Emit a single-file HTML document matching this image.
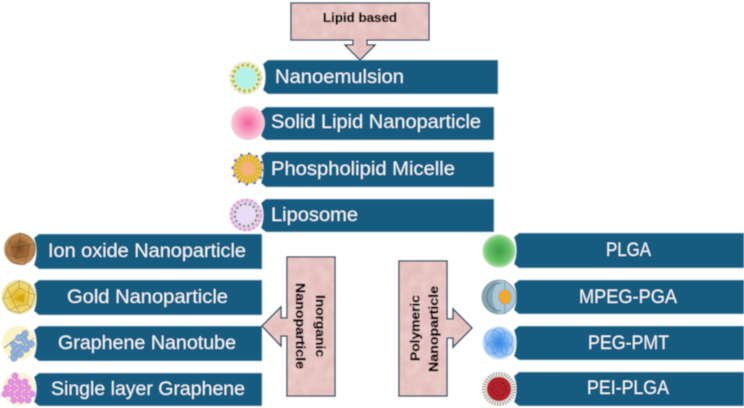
<!DOCTYPE html>
<html><head><meta charset="utf-8"><style>
html,body{margin:0;padding:0;background:#fff;width:744px;height:408px;overflow:hidden}
svg{display:block}
.t{font-family:"Liberation Sans",sans-serif;font-size:19px;fill:#f2f7fa}
.b{font-family:"Liberation Sans",sans-serif;font-size:13px;font-weight:bold;fill:#000;stroke:#000;stroke-width:.35}
</style></head><body>
<svg width="744" height="408" viewBox="0 0 744 408" xmlns="http://www.w3.org/2000/svg">
<defs>
<filter id="tex" x="0" y="0" width="100%" height="100%">
<feTurbulence type="fractalNoise" baseFrequency="0.09" numOctaves="3" seed="4"/>
<feColorMatrix values="0 0 0 0 0.93  0 0 0 0 0.78  0 0 0 0 0.76  0.8 0 0 0 -0.25"/>
<feComposite in2="SourceGraphic" operator="in" result="n"/>
<feMerge><feMergeNode in="SourceGraphic"/><feMergeNode in="n"/></feMerge>
</filter>
<filter id="soft" x="-5%" y="-5%" width="110%" height="110%"><feGaussianBlur stdDeviation="0.4"/></filter>
<radialGradient id="gp"><stop offset="0" stop-color="#f2629f"/><stop offset=".6" stop-color="#f9a0c2"/><stop offset="1" stop-color="#f9cbd9"/></radialGradient>
<radialGradient id="gg"><stop offset="0" stop-color="#3f9c47"/><stop offset=".7" stop-color="#68c268"/><stop offset="1" stop-color="#a8dea2"/></radialGradient>
<radialGradient id="gb"><stop offset="0" stop-color="#2f86ea"/><stop offset=".7" stop-color="#8cbdf2"/><stop offset="1" stop-color="#cfe3f8"/></radialGradient>
<radialGradient id="gi"><stop offset="0" stop-color="#7a4a26"/><stop offset=".7" stop-color="#b27a45"/><stop offset="1" stop-color="#c99862"/></radialGradient>
<radialGradient id="gy"><stop offset="0" stop-color="#e2b51e"/><stop offset=".6" stop-color="#eed160"/><stop offset="1" stop-color="#f3e3a0"/></radialGradient>
</defs>
<g filter="url(#soft)">

<!-- bars -->
<g fill="#125c80" stroke="#a9cfe0" stroke-width=".5">
<path d="M268 60H498V94H268L263 90Q268 77 263 64Z"/>
<path d="M266 107H494V140H266L261 136Q266 123 261 111Z"/>
<path d="M266 152H494V187H266L261 183Q266 169 261 156Z"/>
<path d="M266 199H494V232H266L261 228Q266 215 261 203Z"/>
<path d="M39 234H262V269H39L34 265Q39 251 34 238Z"/>
<path d="M39 280H262V315H39L34 311Q39 297 34 284Z"/>
<path d="M39 326H262V361H39L34 357Q39 343 34 330Z"/>
<path d="M39 373H262V406H39L34 402Q39 389 34 377Z"/>
<path d="M519 233H744V268H519L514 264Q519 250 514 237Z"/>
<path d="M519 280H744V314H519L514 310Q519 297 514 284Z"/>
<path d="M519 326H744V360H519L514 356Q519 343 514 330Z"/>
<path d="M519 372H744V406H519L514 402Q519 389 514 376Z"/>
</g>

<!-- bar labels -->
<text class="t" x="275" y="83" textLength="129" lengthAdjust="spacingAndGlyphs">Nanoemulsion</text>
<text class="t" x="271" y="128" textLength="210" lengthAdjust="spacingAndGlyphs">Solid Lipid Nanoparticle</text>
<text class="t" x="271" y="175" textLength="184" lengthAdjust="spacingAndGlyphs">Phospholipid Micelle</text>
<text class="t" x="271" y="221" textLength="87" lengthAdjust="spacingAndGlyphs">Liposome</text>
<text class="t" x="48" y="257" textLength="198" lengthAdjust="spacingAndGlyphs">Ion oxide Nanoparticle</text>
<text class="t" x="67" y="303" textLength="161" lengthAdjust="spacingAndGlyphs">Gold Nanoparticle</text>
<text class="t" x="58" y="349" textLength="178" lengthAdjust="spacingAndGlyphs">Graphene Nanotube</text>
<text class="t" x="51" y="395" textLength="194" lengthAdjust="spacingAndGlyphs">Single layer Graphene</text>
<text class="t" x="606" y="256" textLength="45" lengthAdjust="spacingAndGlyphs">PLGA</text>
<text class="t" x="579" y="303" textLength="98" lengthAdjust="spacingAndGlyphs">MPEG-PGA</text>
<text class="t" x="588" y="349" textLength="81" lengthAdjust="spacingAndGlyphs">PEG-PMT</text>
<text class="t" x="587" y="394" textLength="82" lengthAdjust="spacingAndGlyphs">PEI-PLGA</text>

<!-- callouts -->
<g fill="#e4bfbd" filter="url(#tex)">
<path d="M291 3H429V40H367V45H375L360 60L345 45H353V40H291Z"/>
<path d="M287 257H335V396H287V336H281V346L262 326L281 307V318H287Z"/>
<path d="M399 261H447V319H453V309L472 328L453 347V338H447V396H399Z"/>
</g>
<g fill="none" stroke="#2c4a60" stroke-width="1.3">
<path d="M291 3H429V40H367V45H375L360 60L345 45H353V40H291Z"/>
<path d="M287 257H335V396H287V336H281V346L262 326L281 307V318H287Z"/>
<path d="M399 261H447V319H453V309L472 328L453 347V338H447V396H399Z"/>
</g>
<text class="b" x="323" y="22" textLength="74" lengthAdjust="spacingAndGlyphs">Lipid based</text>
<text class="b" transform="translate(316,295) rotate(90)" textLength="62" lengthAdjust="spacingAndGlyphs">Inorganic</text>
<text class="b" transform="translate(296,283) rotate(90)" textLength="86" lengthAdjust="spacingAndGlyphs">Nanoparticle</text>
<text class="b" transform="translate(419.5,361) rotate(-90)" textLength="66" lengthAdjust="spacingAndGlyphs">Polymeric</text>
<text class="b" transform="translate(438,372) rotate(-90)" textLength="86" lengthAdjust="spacingAndGlyphs">Nanoparticle</text>

<!-- Nanoemulsion icon -->
<circle cx="246" cy="78" r="16.5" fill="#f3edc9"/>
<circle cx="246" cy="78" r="13" fill="none" stroke="#a6c04e" stroke-width="3" stroke-dasharray="3 2.1"/>
<circle cx="246" cy="78" r="15.7" fill="none" stroke="#d9d39a" stroke-width="1.6" stroke-dasharray="1.6 3.5"/>
<circle cx="246" cy="78" r="11" fill="#b4f2e8"/>

<!-- Solid lipid icon -->
<circle cx="248" cy="123" r="16.5" fill="url(#gp)" stroke="#e6c8c8" stroke-width=".8"/>

<!-- Phospholipid icon -->
<circle cx="248" cy="169" r="15" fill="#ecc34e"/>
<circle cx="248" cy="169" r="10.5" fill="none" stroke="#c49c2c" stroke-width="8" stroke-dasharray=".8 2.4"/>
<circle cx="248" cy="169" r="15.3" fill="none" stroke="#4a70c8" stroke-width="2.4" stroke-dasharray="2.4 5.6"/>
<circle cx="248" cy="169" r="7" fill="#f6b27e"/>

<!-- Liposome icon -->
<circle cx="246" cy="215" r="16.5" fill="#eed5ec"/>
<circle cx="246" cy="215" r="14.8" fill="none" stroke="#d9a6d8" stroke-width="3" stroke-dasharray="3 1.6"/>
<circle cx="246" cy="215" r="11.2" fill="none" stroke="#5a9474" stroke-width="2.2" stroke-dasharray="2.2 2.4"/>
<circle cx="246" cy="215" r="9.5" fill="#e9dcf7"/>

<!-- Ion oxide icon -->
<circle cx="20" cy="249" r="16" fill="url(#gi)"/>
<g fill="none" stroke="#5c3d26" stroke-width=".5">
<path d="M20 233L10 240L6 252L12 262L24 265L33 256L35 244L28 236Z"/>
<path d="M20 240L12 248L16 258L27 256L29 245ZM20 233V240M10 240L12 248M6 252L16 258M24 265L27 256M35 244L29 245M12 248L29 245M20 240L16 258"/>
</g>

<!-- Gold icon -->
<circle cx="19" cy="297" r="17" fill="url(#gy)" stroke="#e9e2c0" stroke-width=".8"/>
<g fill="none" stroke="#a58a22" stroke-width=".6">
<path d="M19 281L8 288L3 299L9 310L20 313L31 307L35 295L29 285Z"/>
<path d="M19 288L11 297L16 307L27 304L29 293ZM19 281V288M8 288L11 297M3 299L11 297M9 310L16 307M20 313L16 307M31 307L27 304M35 295L29 293M29 285L29 293"/>
</g>
<path d="M13 299L25 293L24 303Z" fill="#d8a90f"/>

<!-- Graphene nanotube icon -->
<circle cx="19" cy="343" r="17" fill="#fbf3c8"/>
<path d="M4 348L27 330" stroke="#5f7fa6" stroke-width="1"/>
<path d="M8 358L34 338" stroke="#b8ad80" stroke-width="1"/>
<g fill="#8fb0dc" stroke="#6f90c0" stroke-width=".5">
<circle cx="25" cy="334" r="3.5"/><circle cx="19" cy="338" r="3.5"/><circle cx="25" cy="341" r="3.5"/><circle cx="31" cy="344" r="3.5"/>
<circle cx="14" cy="345" r="3.5"/><circle cx="20" cy="347" r="3.5"/><circle cx="26" cy="349" r="3.5"/><circle cx="14" cy="352" r="3.5"/><circle cx="14" cy="358" r="3.5"/><circle cx="20" cy="354" r="3.5"/>
</g>

<!-- Single layer graphene icon -->
<circle cx="19" cy="389" r="17" fill="#fbf3d6"/>
<g fill="#e68fe0" stroke="#cf78c9" stroke-width=".4">
<circle cx="15" cy="376" r="3.3"/>
<circle cx="11" cy="382" r="3.3"/><circle cx="18" cy="382" r="3.3"/><circle cx="25" cy="382" r="3.3"/>
<circle cx="7" cy="388" r="3.3"/><circle cx="14" cy="388" r="3.3"/><circle cx="21" cy="388" r="3.3"/><circle cx="28" cy="388" r="3.3"/>
<circle cx="5" cy="394" r="3.3"/><circle cx="11" cy="394" r="3.3"/><circle cx="18" cy="394" r="3.3"/><circle cx="25" cy="394" r="3.3"/><circle cx="32" cy="394" r="3.3"/>
<circle cx="14" cy="400" r="3.3"/><circle cx="21" cy="400" r="3.3"/><circle cx="28" cy="400" r="3.3"/>
</g>

<!-- PLGA icon -->
<circle cx="499" cy="251" r="16.5" fill="url(#gg)" stroke="#dfe8da" stroke-width=".8"/>

<!-- MPEG icon -->
<circle cx="499" cy="297" r="17" fill="#a9c7d6" stroke="#7c96a4" stroke-width=".8"/>
<path d="M499 280A17 17 0 0 0 499 314Q486 297 499 280Z" fill="#86a3b2"/>
<path d="M501 283A14 14 0 0 0 501 311" fill="none" stroke="#607988" stroke-width="1"/>
<path d="M505 280V314" stroke="#7a94a2" stroke-width=".8"/>
<ellipse cx="505" cy="297" rx="5.8" ry="7" fill="#f5a92a" stroke="#c8801a" stroke-width=".6"/>

<!-- PEG icon -->
<circle cx="499" cy="343" r="16.5" fill="url(#gb)" stroke="#dce8f3" stroke-width=".8"/>
<g fill="none" stroke="#4a90e4" stroke-width=".6">
<circle cx="493" cy="338" r="8"/><circle cx="505" cy="340" r="7.5"/><circle cx="500" cy="350" r="7"/><circle cx="492" cy="348" r="6"/><circle cx="507" cy="349" r="6"/><circle cx="499" cy="334" r="6"/>
</g>

<!-- PEI icon -->
<circle cx="499" cy="389" r="14.5" fill="none" stroke="#a8a29a" stroke-width="5" stroke-dasharray="1.4 1.2"/>
<circle cx="499" cy="389" r="12" fill="#b3202a"/>
<circle cx="499" cy="389" r="7" fill="none" stroke="#7d141c" stroke-width="1" stroke-dasharray="3 2"/>
<circle cx="499" cy="389" r="3.5" fill="none" stroke="#7d141c" stroke-width=".8" stroke-dasharray="2 2"/>
</g>
</svg>
</body></html>
